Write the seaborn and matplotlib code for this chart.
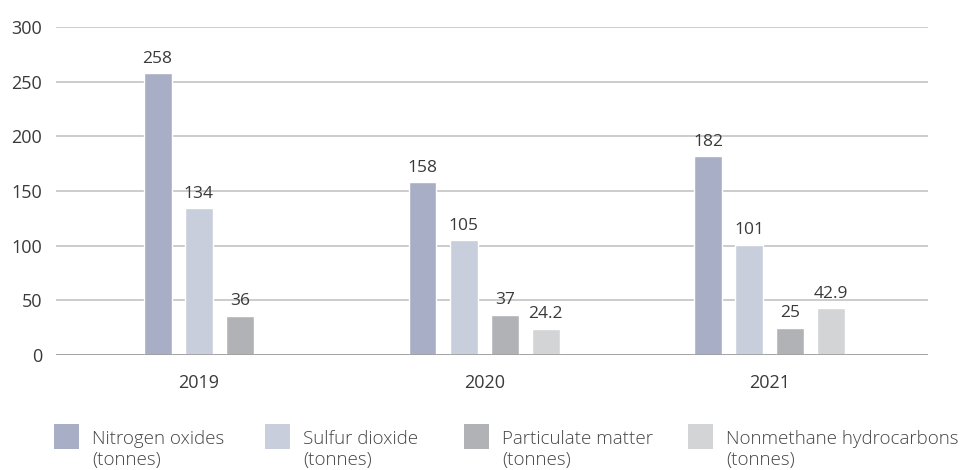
import numpy as np
import pandas as pd
import matplotlib
matplotlib.use("Agg")
import matplotlib.pyplot as plt
from matplotlib.patches import Rectangle
import seaborn as sns

# Emissions by year (tonnes)
years = ["2019", "2020", "2021"]
series = ["Nitrogen oxides", "Sulfur dioxide", "Particulate matter", "Nonmethane hydrocarbons"]
nitrogen_oxides = [258, 158, 182]
sulfur_dioxide = [134, 105, 101]
particulate_matter = [36, 37, 25]
nonmethane_hydrocarbons = [np.nan, 24.2, 42.9]
legend_labels = ["Nitrogen oxides\n(tonnes)", "Sulfur dioxide\n(tonnes)",
                 "Particulate matter\n(tonnes)", "Nonmethane hydrocarbons\n(tonnes)"]
colors = ["#A7AEC6", "#C8CEDB", "#B1B2B6", "#D3D4D6"]

values = [nitrogen_oxides, sulfur_dioxide, particulate_matter, nonmethane_hydrocarbons]

# Long table; bars present in a year are centred on that year's slot
step = 0.144
rows = []
for yi, year in enumerate(years):
    present = [si for si in range(len(series)) if not np.isnan(values[si][yi])]
    k = len(present)
    for j, si in enumerate(present):
        rows.append({"year": year, "series": series[si], "value": values[si][yi],
                     "pos": yi + (j - (k - 1) / 2) * step})
df = pd.DataFrame(rows)

sns.set_theme(style="white")
plt.rcParams["font.family"] = ["Open Sans", "DejaVu Sans"]
text_color = "#3A3A3A"

W, H = 961, 470
fig = plt.figure(figsize=(W / 100, H / 100), dpi=100)
ax = fig.add_axes([56 / W, 1 - 355 / H, (928 - 56) / W, (355 - 27) / H])

sns.barplot(data=df, x="pos", y="value", hue="series", hue_order=series,
            palette=colors, native_scale=True, dodge=False, width=0.68,
            saturation=1, errorbar=None, legend=False, ax=ax, zorder=3)

# Value labels above each bar
for _, r in df.iterrows():
    ax.annotate(f"{r['value']:g}", (r["pos"], r["value"]), xytext=(0, 7.5),
                textcoords="offset points", ha="center", va="baseline",
                fontsize=12.5, color=text_color)

ax.set_xlim(-0.5, 2.555)
ax.set_ylim(0, 300)
ax.set_yticks(range(0, 301, 50))
ax.set_xticks(range(len(years)), years)
ax.set_xlabel("")
ax.set_ylabel("")
ax.yaxis.grid(True, color="#C4C4C4", lw=1.2, zorder=0)
ax.set_axisbelow(True)
ax.axhline(0, color="#9C9C9C", lw=1.2, zorder=4)
for s in ax.spines.values():
    s.set_visible(False)
ax.tick_params(axis="both", length=0, labelsize=13, colors=text_color)
ax.tick_params(axis="y", pad=10)
ax.tick_params(axis="x", pad=13.5)

# Legend row along the bottom
sq_x = [54, 265, 464, 688]
for x, c, lab in zip(sq_x, colors, legend_labels):
    first, second = lab.split("\n")
    fig.add_artist(Rectangle((x / W, 1 - 449 / H), 25 / W, 25 / H,
                             transform=fig.transFigure, color=c, lw=0))
    fig.text((x + 38) / W, 1 - 444 / H, first, ha="left", va="baseline",
             fontsize=13.5, color="#454545", fontweight="light")
    fig.text((x + 38) / W, 1 - 465 / H, second, ha="left", va="baseline",
             fontsize=13.5, color="#454545", fontweight="light")

fig.savefig("out.png", dpi=100)
